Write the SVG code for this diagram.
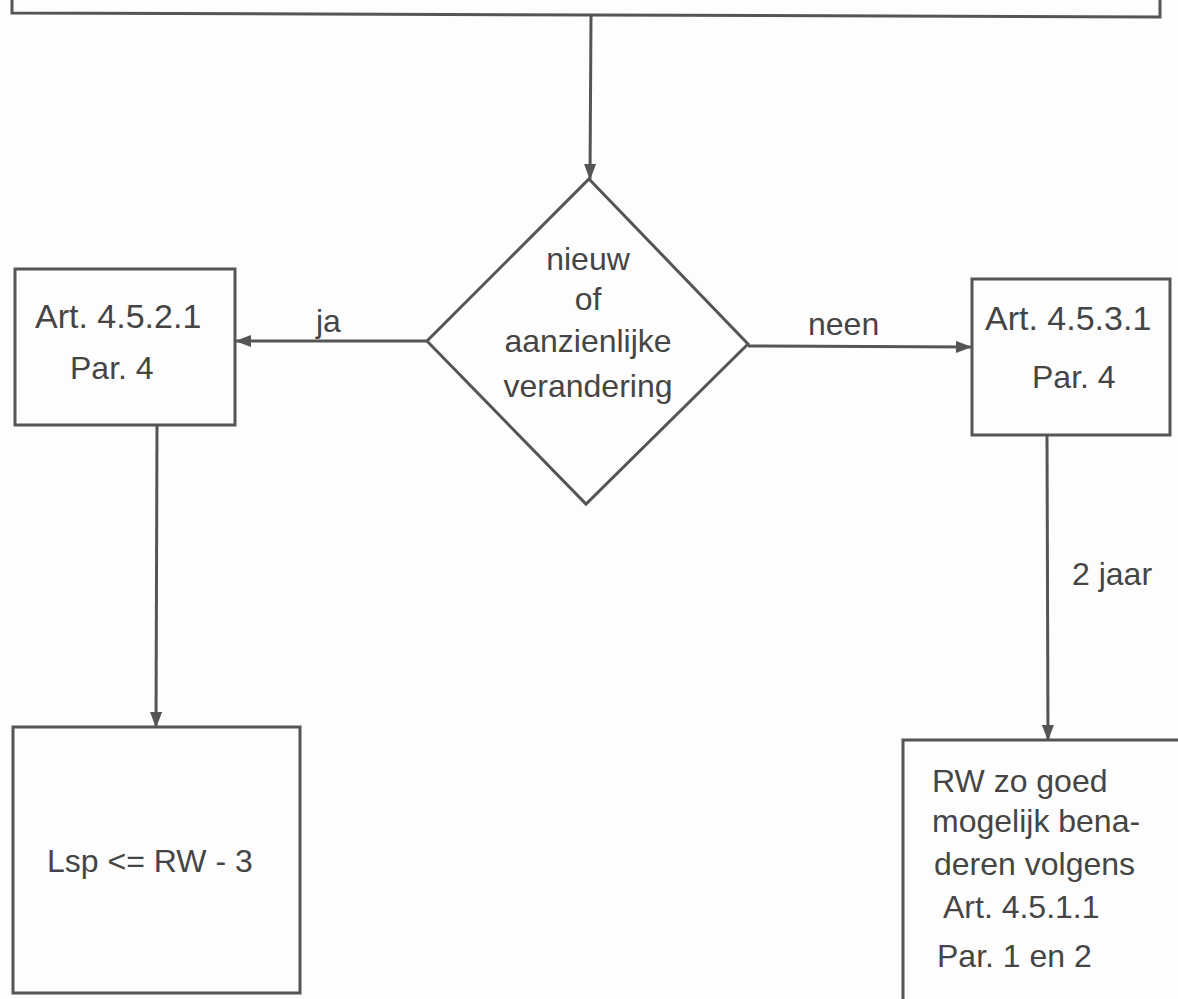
<svg xmlns="http://www.w3.org/2000/svg" width="1178" height="999" viewBox="0 0 1178 999">
<style>
.box{fill:none;stroke:#555;stroke-width:3}
.ln{fill:none;stroke:#555;stroke-width:3}
text{font-family:"Liberation Sans",Arial,sans-serif;font-size:32px;fill:#454545}
.c{text-anchor:middle}
.big{font-size:34px}
</style>
<defs>
<marker id="ah" viewBox="0 0 16 12" refX="15" refY="6" markerWidth="16" markerHeight="12" markerUnits="userSpaceOnUse" orient="auto">
<path d="M0,0 L16,6 L0,12 Z" fill="#555"/>
</marker>
</defs>
<rect width="1178" height="999" fill="#fdfdfd"/>
<g id="top">
<polyline class="box" points="12,-5 12,13 1160,17 1160,-5"/>
</g>
<g id="decision">
<polygon class="box" points="589,179 748,344 586,504 427,341"/>
<text class="c" x="588" y="270">nieuw</text>
<text class="c" x="588" y="310">of</text>
<text class="c" x="588" y="352">aanzienlijke</text>
<text class="c" x="588" y="397">verandering</text>
</g>
<g id="left1">
<rect class="box" x="15" y="269" width="220" height="156"/>
<text class="big" x="35" y="328">Art. 4.5.2.1</text>
<text x="70" y="379">Par. 4</text>
</g>
<g id="right1">
<rect class="box" x="972" y="279" width="198" height="156"/>
<text class="big" x="985" y="330">Art. 4.5.3.1</text>
<text x="1032" y="388">Par. 4</text>
</g>
<g id="left2">
<rect class="box" x="13" y="727" width="287" height="266"/>
<text x="47" y="872">Lsp &lt;= RW - 3</text>
</g>
<g id="right2">
<polyline class="box" points="1180,740 903,740 903,1005"/>
<text x="932" y="792">RW zo goed</text>
<text x="932" y="832">mogelijk bena-</text>
<text x="934" y="875">deren volgens</text>
<text x="943" y="918">Art. 4.5.1.1</text>
<text x="937" y="967">Par. 1 en 2</text>
</g>
<g id="connectors">
<line class="ln" x1="591" y1="15" x2="590" y2="179" marker-end="url(#ah)"/>
<line class="ln" x1="427" y1="341" x2="236" y2="341" marker-end="url(#ah)"/>
<text x="316" y="332">ja</text>
<line class="ln" x1="748" y1="346" x2="971" y2="347" marker-end="url(#ah)"/>
<text x="808" y="335">neen</text>
<line class="ln" x1="157" y1="425" x2="156" y2="727" marker-end="url(#ah)"/>
<line class="ln" x1="1047" y1="435" x2="1048" y2="740" marker-end="url(#ah)"/>
<text x="1072" y="585">2 jaar</text>
</g>
</svg>
